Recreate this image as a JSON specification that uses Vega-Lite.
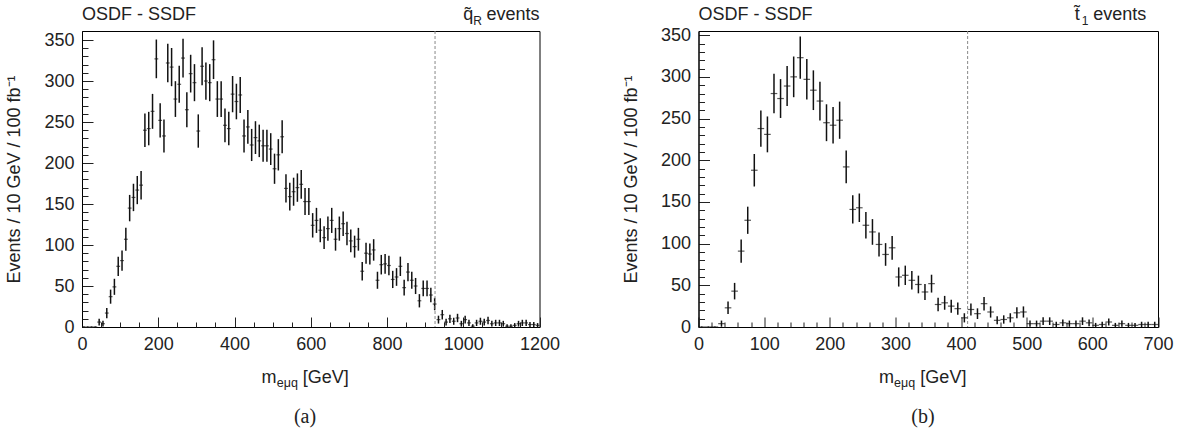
{
  "$schema": "https://vega.github.io/schema/vega-lite/v6.json",
  "padding": {"left": 5, "top": 5, "right": 5, "bottom": 2},
  "bounds": "flush",
  "spacing": 158.5,
  "config": {
    "font": "Liberation Sans",
    "view": {"stroke": "#000", "strokeWidth": 1},
    "axis": {"grid": false, "labelFont": "Liberation Sans", "labelFontSize": 18, "labelColor": "#222", "titleFont": "Liberation Sans", "titleFontSize": 18, "titleFontWeight": "normal", "titleColor": "#222", "tickColor": "#222", "domainColor": "#000", "labelPadding": 8, "labelOverlap": false, "labelFlush": false, "format": "d"}
  },
  "datasets": {
    "a": [
      {"m":5,"n":0,"err":0.6},{"m":15,"n":0,"err":0.6},{"m":25,"n":0,"err":0.6},{"m":35,"n":0,"err":0.6},
      {"m":45,"n":6,"err":4.1},{"m":55,"n":4,"err":3.5},{"m":65,"n":17,"err":6.2},{"m":75,"n":37,"err":8.6},
      {"m":85,"n":49,"err":9.8},{"m":95,"n":74,"err":11.8},{"m":105,"n":81,"err":12.3},{"m":115,"n":107,"err":13.9},
      {"m":125,"n":145,"err":16.1},{"m":135,"n":158,"err":16.7},{"m":145,"n":167,"err":17.2},{"m":155,"n":173,"err":17.4},
      {"m":165,"n":240,"err":20.4},{"m":175,"n":242,"err":20.4},{"m":185,"n":263,"err":21.3},{"m":195,"n":327,"err":23.6},
      {"m":205,"n":252,"err":20.8},{"m":215,"n":233,"err":20.1},{"m":225,"n":322,"err":23.4},{"m":235,"n":317,"err":23.3},
      {"m":245,"n":278,"err":21.8},{"m":255,"n":296,"err":22.5},{"m":265,"n":328,"err":23.6},{"m":275,"n":265,"err":21.3},
      {"m":285,"n":309,"err":23},{"m":295,"n":298,"err":22.6},{"m":305,"n":239,"err":20.3},{"m":315,"n":318,"err":23.3},
      {"m":325,"n":300,"err":22.7},{"m":335,"n":298,"err":22.6},{"m":345,"n":326,"err":23.6},{"m":355,"n":278,"err":21.8},
      {"m":365,"n":278,"err":21.8},{"m":375,"n":246,"err":20.6},{"m":385,"n":242,"err":20.4},{"m":395,"n":284,"err":22.1},
      {"m":405,"n":275,"err":21.7},{"m":415,"n":283,"err":22},{"m":425,"n":233,"err":20.1},{"m":435,"n":244,"err":20.5},
      {"m":445,"n":222,"err":19.6},{"m":455,"n":231,"err":20},{"m":465,"n":227,"err":19.8},{"m":475,"n":221,"err":19.6},
      {"m":485,"n":221,"err":19.6},{"m":495,"n":217,"err":19.4},{"m":505,"n":193,"err":18.4},{"m":515,"n":210,"err":19.1},
      {"m":525,"n":232,"err":20},{"m":535,"n":169,"err":17.3},{"m":545,"n":159,"err":16.8},{"m":555,"n":165,"err":17.1},
      {"m":565,"n":170,"err":17.3},{"m":575,"n":174,"err":17.5},{"m":585,"n":153,"err":16.5},{"m":595,"n":153,"err":16.5},
      {"m":605,"n":124,"err":14.9},{"m":615,"n":130,"err":15.3},{"m":625,"n":118,"err":14.6},{"m":635,"n":109,"err":14},
      {"m":645,"n":120,"err":14.7},{"m":655,"n":130,"err":15.3},{"m":665,"n":107,"err":13.9},{"m":675,"n":120,"err":14.7},
      {"m":685,"n":126,"err":15},{"m":695,"n":114,"err":14.3},{"m":705,"n":105,"err":13.8},{"m":715,"n":98,"err":13.4},
      {"m":725,"n":107,"err":13.9},{"m":735,"n":68,"err":11.3},{"m":745,"n":90,"err":12.9},{"m":755,"n":89,"err":12.8},
      {"m":765,"n":94,"err":13.1},{"m":775,"n":57,"err":10.4},{"m":785,"n":76,"err":11.9},{"m":795,"n":77,"err":12},
      {"m":805,"n":75,"err":11.8},{"m":815,"n":58,"err":10.5},{"m":825,"n":61,"err":10.8},{"m":835,"n":74,"err":11.8},
      {"m":845,"n":48,"err":9.7},{"m":855,"n":67,"err":11.2},{"m":865,"n":57,"err":10.4},{"m":875,"n":50,"err":9.8},
      {"m":885,"n":32,"err":8.1},{"m":895,"n":47,"err":9.6},{"m":905,"n":47,"err":9.6},{"m":915,"n":39,"err":8.8},
      {"m":925,"n":28,"err":7.6},{"m":935,"n":9,"err":4.8},{"m":945,"n":15,"err":5.8},{"m":955,"n":6,"err":4.1},
      {"m":965,"n":10,"err":5},{"m":975,"n":7,"err":4.3},{"m":985,"n":11,"err":5.1},{"m":995,"n":4,"err":3.5},
      {"m":1005,"n":9,"err":4.8},{"m":1015,"n":5,"err":3.8},{"m":1025,"n":1,"err":2.3},{"m":1035,"n":5,"err":3.8},
      {"m":1045,"n":7,"err":4.3},{"m":1055,"n":6,"err":4.1},{"m":1065,"n":8,"err":4.5},{"m":1075,"n":4,"err":3.5},
      {"m":1085,"n":5,"err":3.8},{"m":1095,"n":5,"err":3.8},{"m":1105,"n":4,"err":3.5},{"m":1115,"n":1,"err":2.3},
      {"m":1125,"n":1,"err":2.3},{"m":1135,"n":2,"err":2.8},{"m":1145,"n":4,"err":3.5},{"m":1155,"n":5,"err":3.8},
      {"m":1165,"n":5,"err":3.8},{"m":1175,"n":3,"err":3.2},{"m":1185,"n":3,"err":3.2},{"m":1195,"n":2,"err":2.8}
    ],
    "b": [
      {"m":5,"n":0,"err":0.6},{"m":15,"n":0,"err":0.6},{"m":25,"n":0,"err":0.6},{"m":35,"n":4,"err":3.7},
      {"m":45,"n":23,"err":7.5},{"m":55,"n":43,"err":9.9},{"m":65,"n":91,"err":13.9},{"m":75,"n":128,"err":16.3},
      {"m":85,"n":188,"err":19.5},{"m":95,"n":238,"err":21.8},{"m":105,"n":231,"err":21.5},{"m":115,"n":280,"err":23.6},
      {"m":125,"n":274,"err":23.3},{"m":135,"n":289,"err":24},{"m":145,"n":300,"err":24.4},{"m":155,"n":323,"err":25.3},
      {"m":165,"n":297,"err":24.3},{"m":175,"n":284,"err":23.8},{"m":185,"n":271,"err":23.2},{"m":195,"n":245,"err":22.1},
      {"m":205,"n":242,"err":22},{"m":215,"n":248,"err":22.3},{"m":225,"n":192,"err":19.7},{"m":235,"n":141,"err":17},
      {"m":245,"n":143,"err":17.1},{"m":255,"n":122,"err":15.9},{"m":265,"n":114,"err":15.4},{"m":275,"n":99,"err":14.4},
      {"m":285,"n":87,"err":13.6},{"m":295,"n":95,"err":14.2},{"m":305,"n":60,"err":11.5},{"m":315,"n":62,"err":11.6},
      {"m":325,"n":56,"err":11.1},{"m":335,"n":51,"err":10.6},{"m":345,"n":42,"err":9.7},{"m":355,"n":52,"err":10.7},
      {"m":365,"n":27,"err":8},{"m":375,"n":29,"err":8.3},{"m":385,"n":25,"err":7.8},{"m":395,"n":22,"err":7.3},
      {"m":405,"n":11,"err":5.5},{"m":415,"n":21,"err":7.2},{"m":425,"n":16,"err":6.4},{"m":435,"n":28,"err":8.1},
      {"m":445,"n":18,"err":6.7},{"m":455,"n":8,"err":4.8},{"m":465,"n":9,"err":5},{"m":475,"n":11,"err":5.5},
      {"m":485,"n":17,"err":6.6},{"m":495,"n":18,"err":6.7},{"m":505,"n":4,"err":3.7},{"m":515,"n":4,"err":3.7},
      {"m":525,"n":7,"err":4.6},{"m":535,"n":7,"err":4.6},{"m":545,"n":3,"err":3.3},{"m":555,"n":5,"err":4},
      {"m":565,"n":4,"err":3.7},{"m":575,"n":4,"err":3.7},{"m":585,"n":7,"err":4.6},{"m":595,"n":5,"err":4},
      {"m":605,"n":2,"err":2.9},{"m":615,"n":3,"err":3.3},{"m":625,"n":6,"err":4.3},{"m":635,"n":2,"err":2.9},
      {"m":645,"n":4,"err":3.7},{"m":655,"n":2,"err":2.9},{"m":665,"n":2,"err":2.9},{"m":675,"n":3,"err":3.3},
      {"m":685,"n":3,"err":3.3},{"m":695,"n":3,"err":3.3}
    ]
  },
  "hconcat": [
    {
      "width": 457.5,
      "height": 296,
      "resolve": {"axis": {"x": "independent", "y": "independent"}},
      "layer": [
        {
          "layer": [
            {
              "data": {"name": "a"},
              "mark": {"type": "errorbar", "ticks": false, "thickness": 1.5, "color": "#111"},
              "encoding": {
                "x": {"field": "m", "type": "quantitative", "scale": {"domain": [0, 1200], "nice": false, "zero": false},
                  "axis": {"title": null, "values": [0,200,400,600,800,1000,1200], "tickSize": -10, "labelPadding": 18}},
                "y": {"field": "n", "type": "quantitative", "scale": {"domain": [0, 361], "nice": false},
                  "axis": {"title": "Events / 10 GeV / 100 fb⁻¹", "titlePadding": 20, "values": [0,50,100,150,200,250,300,350], "tickSize": -11, "labelPadding": 19}},
                "yError": {"field": "err"}
              }
            },
            {
              "data": {"values": [{}]},
              "mark": {"type": "rule", "strokeDash": [3, 2], "color": "#888", "strokeWidth": 1},
              "encoding": {"x": {"datum": 926}}
            },
            {
              "data": {"values": [{}]},
              "mark": {"type": "text", "text": "OSDF - SSDF", "align": "left", "baseline": "middle", "fontSize": 18, "color": "#222"},
              "encoding": {"x": {"datum": 0}, "y": {"datum": 380}}
            },
            {
              "data": {"values": [{}]},
              "mark": {"type": "text", "text": "q̃", "align": "left", "baseline": "middle", "fontSize": 18, "color": "#222"},
              "encoding": {"x": {"datum": 1000}, "y": {"datum": 380}}
            },
            {
              "data": {"values": [{}]},
              "mark": {"type": "text", "text": "R", "align": "left", "baseline": "middle", "fontSize": 12, "dy": 6, "color": "#222"},
              "encoding": {"x": {"datum": 1026}, "y": {"datum": 380}}
            },
            {
              "data": {"values": [{}]},
              "mark": {"type": "text", "text": "events", "align": "right", "baseline": "middle", "fontSize": 18, "color": "#222"},
              "encoding": {"x": {"datum": 1200}, "y": {"datum": 380}}
            },
            {
              "data": {"values": [{}]},
              "mark": {"type": "text", "text": "m", "align": "left", "baseline": "middle", "fontSize": 18, "color": "#222"},
              "encoding": {"x": {"datum": 471}, "y": {"datum": -62}}
            },
            {
              "data": {"values": [{}]},
              "mark": {"type": "text", "text": "eμq", "align": "left", "baseline": "middle", "fontSize": 12.5, "dy": 5, "color": "#222"},
              "encoding": {"x": {"datum": 511}, "y": {"datum": -62}}
            },
            {
              "data": {"values": [{}]},
              "mark": {"type": "text", "text": "[GeV]", "align": "left", "baseline": "middle", "fontSize": 18, "color": "#222"},
              "encoding": {"x": {"datum": 579}, "y": {"datum": -62}}
            },
            {
              "data": {"values": [{}]},
              "mark": {"type": "text", "text": "(a)", "align": "center", "baseline": "middle", "fontSize": 20, "font": "Liberation Serif", "color": "#222"},
              "encoding": {"x": {"datum": 585}, "y": {"datum": -110}}
            }
          ]
        },
        {
          "data": {"name": "a"},
          "mark": {"type": "tick", "orient": "horizontal", "size": 3.8, "thickness": 1.2, "color": "#111"},
          "encoding": {
            "x": {"field": "m", "type": "quantitative",
              "axis": {"orient": "bottom", "title": null, "labels": false, "domain": false, "tickSize": -5,
                "values": [50,100,150,250,300,350,450,500,550,650,700,750,850,900,950,1050,1100,1150]}},
            "y": {"field": "n", "type": "quantitative",
              "axis": {"orient": "left", "title": null, "labels": false, "domain": false, "tickSize": -6,
                "values": [10,20,30,40,60,70,80,90,110,120,130,140,160,170,180,190,210,220,230,240,260,270,280,290,310,320,330,340]}}
          }
        }
      ]
    },
    {
      "width": 459.5,
      "height": 296,
      "resolve": {"axis": {"x": "independent", "y": "independent"}},
      "layer": [
        {
          "layer": [
            {
              "data": {"name": "b"},
              "mark": {"type": "errorbar", "ticks": false, "thickness": 1.5, "color": "#111"},
              "encoding": {
                "x": {"field": "m", "type": "quantitative", "scale": {"domain": [0, 700], "nice": false, "zero": false},
                  "axis": {"title": null, "values": [0,100,200,300,400,500,600,700], "tickSize": -10, "labelPadding": 18}},
                "y": {"field": "n", "type": "quantitative", "scale": {"domain": [0, 355], "nice": false},
                  "axis": {"title": "Events / 10 GeV / 100 fb⁻¹", "titlePadding": 20, "values": [0,50,100,150,200,250,300,350], "tickSize": -11, "labelPadding": 19}},
                "yError": {"field": "err"}
              }
            },
            {
              "data": {"values": [{}]},
              "mark": {"type": "rule", "strokeDash": [3, 2], "color": "#888", "strokeWidth": 1},
              "encoding": {"x": {"datum": 410}}
            },
            {
              "data": {"values": [{}]},
              "mark": {"type": "text", "text": "OSDF - SSDF", "align": "left", "baseline": "middle", "fontSize": 18, "color": "#222"},
              "encoding": {"x": {"datum": 0}, "y": {"datum": 374}}
            },
            {
              "data": {"values": [{}]},
              "mark": {"type": "text", "text": "t̃", "align": "left", "baseline": "middle", "fontSize": 18, "color": "#222"},
              "encoding": {"x": {"datum": 573}, "y": {"datum": 374}}
            },
            {
              "data": {"values": [{}]},
              "mark": {"type": "text", "text": "1", "align": "left", "baseline": "middle", "fontSize": 12, "dy": 6, "color": "#222"},
              "encoding": {"x": {"datum": 584}, "y": {"datum": 374}}
            },
            {
              "data": {"values": [{}]},
              "mark": {"type": "text", "text": "events", "align": "right", "baseline": "middle", "fontSize": 18, "color": "#222"},
              "encoding": {"x": {"datum": 682}, "y": {"datum": 374}}
            },
            {
              "data": {"values": [{}]},
              "mark": {"type": "text", "text": "m", "align": "left", "baseline": "middle", "fontSize": 18, "color": "#222"},
              "encoding": {"x": {"datum": 275}, "y": {"datum": -61}}
            },
            {
              "data": {"values": [{}]},
              "mark": {"type": "text", "text": "eμq", "align": "left", "baseline": "middle", "fontSize": 12.5, "dy": 5, "color": "#222"},
              "encoding": {"x": {"datum": 298}, "y": {"datum": -61}}
            },
            {
              "data": {"values": [{}]},
              "mark": {"type": "text", "text": "[GeV]", "align": "left", "baseline": "middle", "fontSize": 18, "color": "#222"},
              "encoding": {"x": {"datum": 338}, "y": {"datum": -61}}
            },
            {
              "data": {"values": [{}]},
              "mark": {"type": "text", "text": "(b)", "align": "center", "baseline": "middle", "fontSize": 20, "font": "Liberation Serif", "color": "#222"},
              "encoding": {"x": {"datum": 342}, "y": {"datum": -108}}
            }
          ]
        },
        {
          "data": {"name": "b"},
          "mark": {"type": "tick", "orient": "horizontal", "size": 6.6, "thickness": 1.2, "color": "#111"},
          "encoding": {
            "x": {"field": "m", "type": "quantitative",
              "axis": {"orient": "bottom", "title": null, "labels": false, "domain": false, "tickSize": -5,
                "values": [20,40,60,80,120,140,160,180,220,240,260,280,320,340,360,380,420,440,460,480,520,540,560,580,620,640,660,680]}},
            "y": {"field": "n", "type": "quantitative",
              "axis": {"orient": "left", "title": null, "labels": false, "domain": false, "tickSize": -6,
                "values": [10,20,30,40,60,70,80,90,110,120,130,140,160,170,180,190,210,220,230,240,260,270,280,290,310,320,330,340]}}
          }
        }
      ]
    }
  ]
}
